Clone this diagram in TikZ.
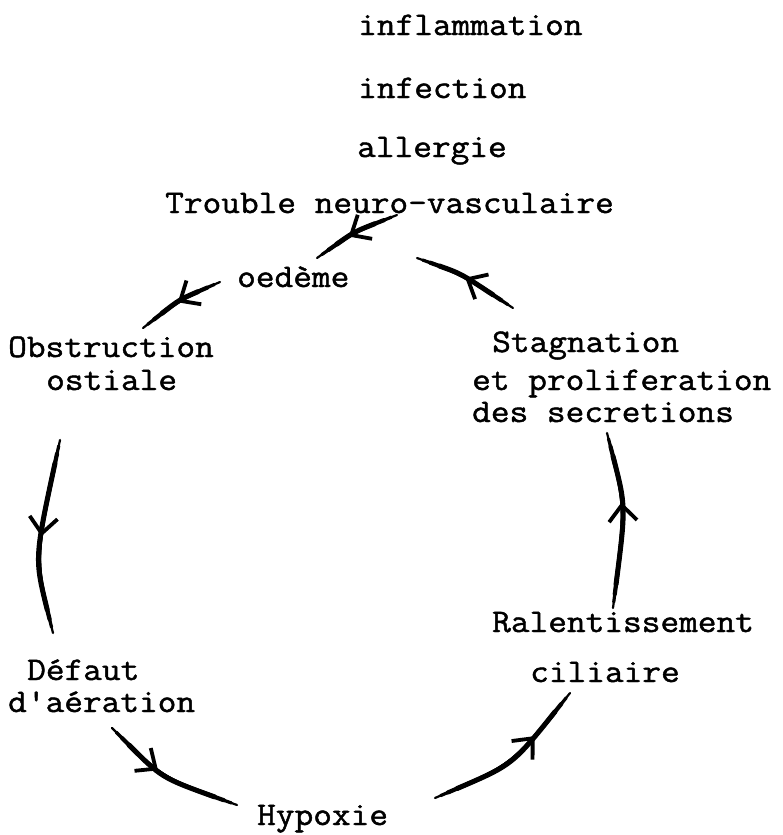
\documentclass[tikz,border=0pt]{standalone}
\usepackage{fontspec}
\setmonofont[FakeStretch=1.1,FakeBold=1.4]{Latin Modern Mono}
\usetikzlibrary{arrows.meta,decorations.markings}
\tikzset{
  lbl/.style={anchor=base west, inner sep=0pt, font=\fontsize{33}{33}\selectfont\ttfamily},
  flow/.style={line width=2.2pt, line cap=round,
    preaction={draw, line width=3.2pt, line cap=round, shorten <=6pt, shorten >=6pt},
    preaction={draw, line width=4.2pt, line cap=round, shorten <=14pt, shorten >=14pt},
    preaction={draw, line width=5pt, line cap=round, shorten <=24pt, shorten >=24pt},
    postaction={decorate},
    decoration={markings, mark=at position #1 with {\arrow{Straight Barb[length=16pt,width=28pt,line width=3.8pt]}}}},
}
\begin{document}
\begin{tikzpicture}[x=1pt,y=-1pt]
\useasboundingbox (0,0) rectangle (783,835);
% labels
\node[lbl] (infl) at (358,35) {inflammation};
\node[lbl] (infe) at (358,98) {infection};
\node[lbl] (alle) at (357,157) {allergie};
\node[lbl] (tnv)  at (165,213) {Trouble neuro-vasculaire};
\node[lbl] (oed)  at (237,287) {oedème};
\node[lbl] (obs1) at (8,357) {Obstruction};
\node[lbl] (obs2) at (46,390) {ostiale};
\node[lbl] (sta1) at (492,352) {Stagnation};
\node[lbl] (sta2) at (472,390) {et proliferation};
\node[lbl] (sta3) at (472,422) {des secretions};
\node[lbl] (ral1) at (492,632) {Ralentissement};
\node[lbl] (ral2) at (530,682) {ciliaire};
\node[lbl] (def1) at (27,680) {Défaut};
\node[lbl] (def2) at (8,712) {d'aération};
\node[lbl] (hyp)  at (257,825) {Hypoxie};
% connector ends
\coordinate (a1s) at (397,215); \coordinate (a1e) at (317,258);
\coordinate (a2s) at (220,282); \coordinate (a2e) at (143,328);
\coordinate (a3s) at (513,308); \coordinate (a3e) at (417,258);
\coordinate (a4s) at (60,440);  \coordinate (a4e) at (53,633);
\coordinate (a5s) at (112,728); \coordinate (a5e) at (237,805);
\coordinate (a6s) at (435,798); \coordinate (a6e) at (570,693);
\coordinate (a7s) at (613,608); \coordinate (a7e) at (607,433);
% connectors
\draw[flow=0.58] (a1s) .. controls (354.3,231.8) .. (a1e);
\draw[flow=0.52] (a2s) .. controls (179.5,299.7) .. (a2e);
\draw[flow=0.52] (a3s) .. controls (461,273.7) .. (a3e);
\draw[flow=0.5]  (a4s) .. controls (34.5,558.5) .. (a4e);
\draw[flow=0.42] (a5s) .. controls (161.8,777.8) .. (a5e);
\draw[flow=0.68] (a6s) .. controls (512.5,764.8) .. (a6e);
\draw[flow=0.6]  (a7s) .. controls (626,506.5) .. (a7e);
\end{tikzpicture}
\end{document}
